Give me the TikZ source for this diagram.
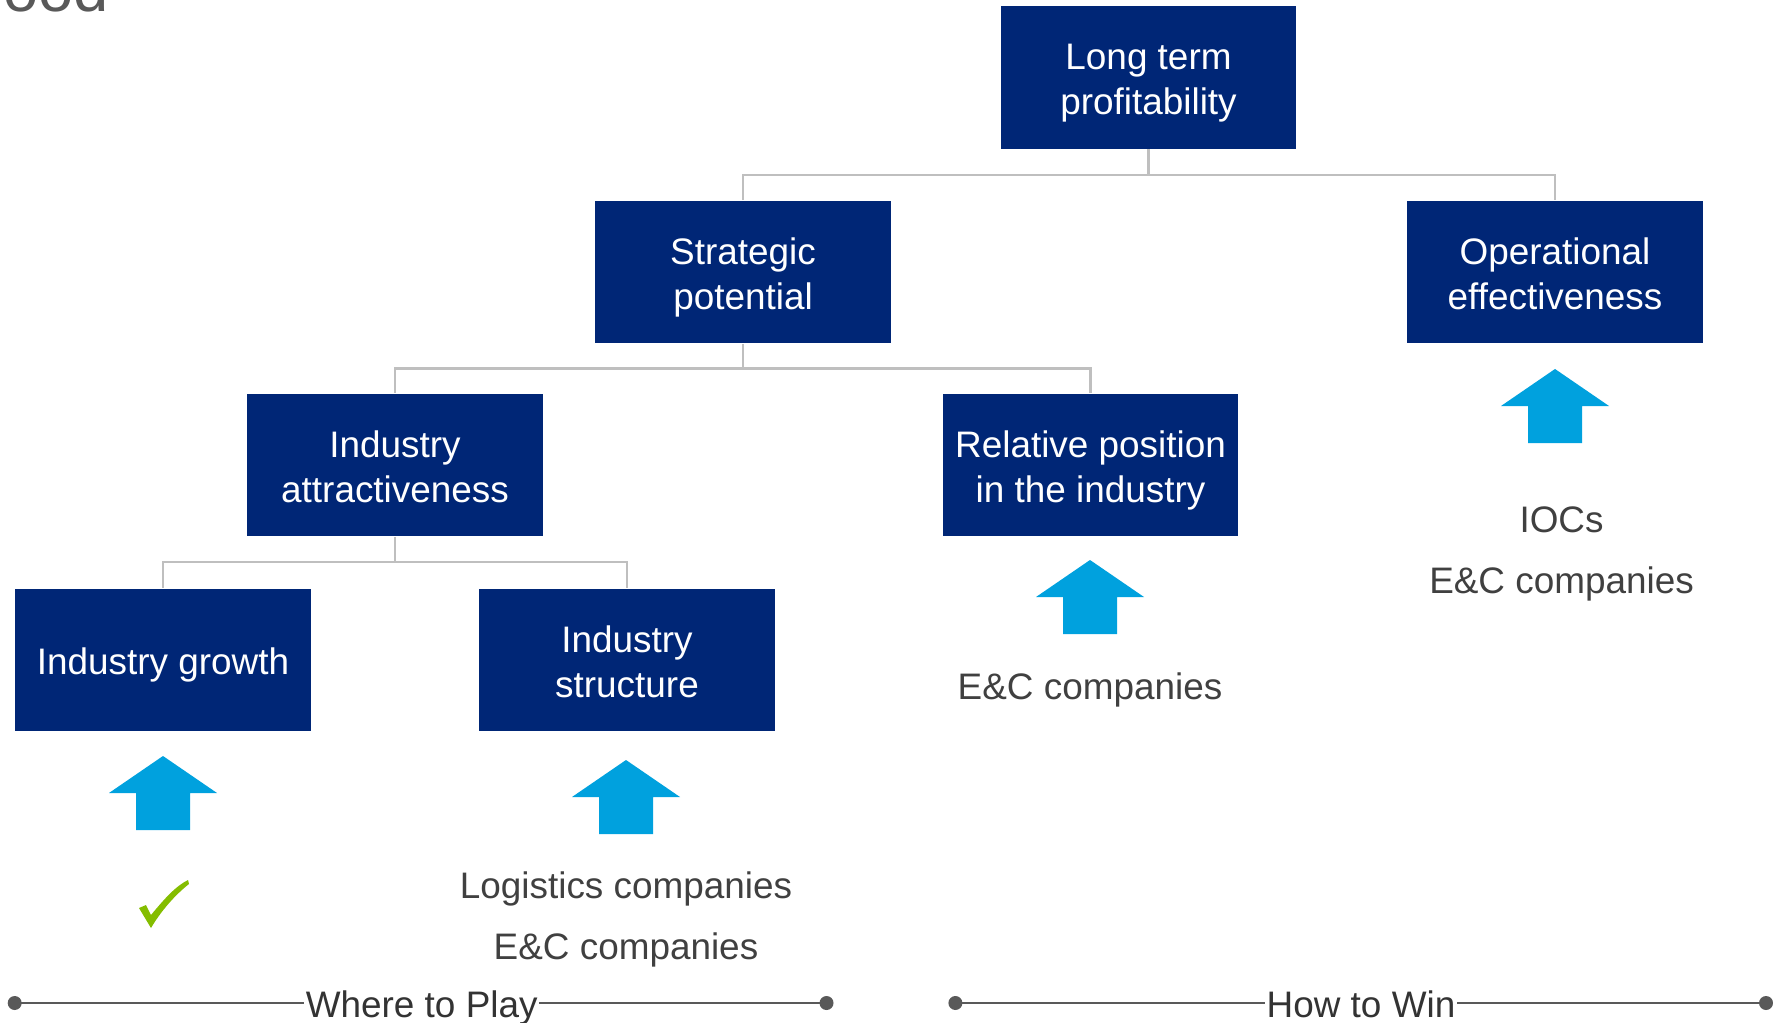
\documentclass[tikz,border=0pt]{standalone}
\usepackage{fontspec}
\setmainfont{Liberation Sans}
\definecolor{navy}{RGB}{0,38,118}
\definecolor{arrowblue}{RGB}{0,161,222}
\definecolor{checkgreen}{RGB}{132,189,0}
\definecolor{treegray}{RGB}{191,191,191}
\definecolor{labelgray}{RGB}{64,64,64}
\definecolor{axisgray}{RGB}{89,89,89}
\tikzset{
  box/.style={fill=navy, text=white, minimum width=5.92cm, minimum height=2.86cm,
    inner sep=0pt, align=center, font=\fontsize{21}{25.5}\selectfont,
    text height=44.2pt, text depth=2pt},
  oneline/.style={text height=20pt, text depth=3pt},
  conn/.style={draw=treegray, line width=1.4pt},
  lbl/.style={text=labelgray, inner sep=0pt, anchor=base, font=\fontsize{21}{25.5}\selectfont},
  axis/.style={draw=axisgray, line width=1.6pt},
  axisdot/.style={fill=axisgray},
  axislbl/.style={text=black!80, fill=white, inner xsep=1pt, inner ysep=0pt, anchor=base,
    font=\fontsize{21}{25.5}\selectfont},
  uparrow/.pic={\fill[arrowblue] (0,0) -- (54,37) -- (27,37) -- (27,74) -- (-27,74)
    -- (-27,37) -- (-54,37) -- cycle;}
}
\begin{document}
\begin{tikzpicture}[x=0.02cm, y=-0.02cm]
\useasboundingbox (0,0) rectangle (1773,1023);

% tail of the page title
\node[anchor=base west, inner sep=0pt, text=axisgray, font=\fontsize{36}{40}\selectfont] (title) at (3,12) {ood};

% tree boxes
\node[box] (ltp) at (1148.5,77.5) {Long term\\profitability};
\node[box] (sp) at (743,272) {Strategic\\potential};
\node[box] (oe) at (1555,272) {Operational\\effectiveness};
\node[box] (ia) at (395,465) {Industry\\attractiveness};
\node[box] (rp) at (1090.5,465) {Relative position\\in the industry};
\node[box, oneline] (ig) at (163,660) {Industry growth};
\node[box] (is) at (627,660) {Industry\\structure};

% tree connectors
\coordinate (j1) at (1148.5,175);
\coordinate (j2) at (743,368.5);
\coordinate (j3) at (395,562);
\draw[conn] (ltp.south) -- (j1);
\draw[conn] (sp.north) |- (j1) -| (oe.north);
\draw[conn] (sp.south) -- (j2);
\draw[conn] (ia.north) |- (j2) -| (rp.north);
\draw[conn] (ia.south) -- (j3);
\draw[conn] (ig.north) |- (j3) -| (is.north);

% blue arrows
\pic at (163,756) {uparrow};
\pic at (626,760) {uparrow};
\pic at (1090,560) {uparrow};
\pic at (1555,369) {uparrow};

% green check
\fill[checkgreen] (139,908) .. controls (142,906) .. (146,905)
  -- (151,915) .. controls (165,898) and (176,886) .. (188,880)
  -- (189,884) .. controls (175,895) and (161,911) .. (151,928) -- cycle;

% labels below arrows
\node[lbl] (l1) at (626,898) {Logistics companies};
\node[lbl] (l2) at (626,959.5) {E\&C companies};
\node[lbl] (l3) at (1090,699) {E\&C companies};
\node[lbl] (l4) at (1561.5,532) {IOCs};
\node[lbl] (l5) at (1561.5,593) {E\&C companies};

% bottom axes
\coordinate (wa) at (14.7,1003);
\coordinate (wb) at (826.5,1003);
\coordinate (ha) at (955.4,1003);
\coordinate (hb) at (1766,1003);
\draw[axis] (wa) -- (wb);
\draw[axis] (ha) -- (hb);
\fill[axisdot] (wa) circle (7);
\fill[axisdot] (wb) circle (7);
\fill[axisdot] (ha) circle (7);
\fill[axisdot] (hb) circle (7);
\node[axislbl] (wtp) at (421.7,1017) {Where to Play};
\node[axislbl] (htw) at (1361,1017) {How to Win};
\end{tikzpicture}
\end{document}
